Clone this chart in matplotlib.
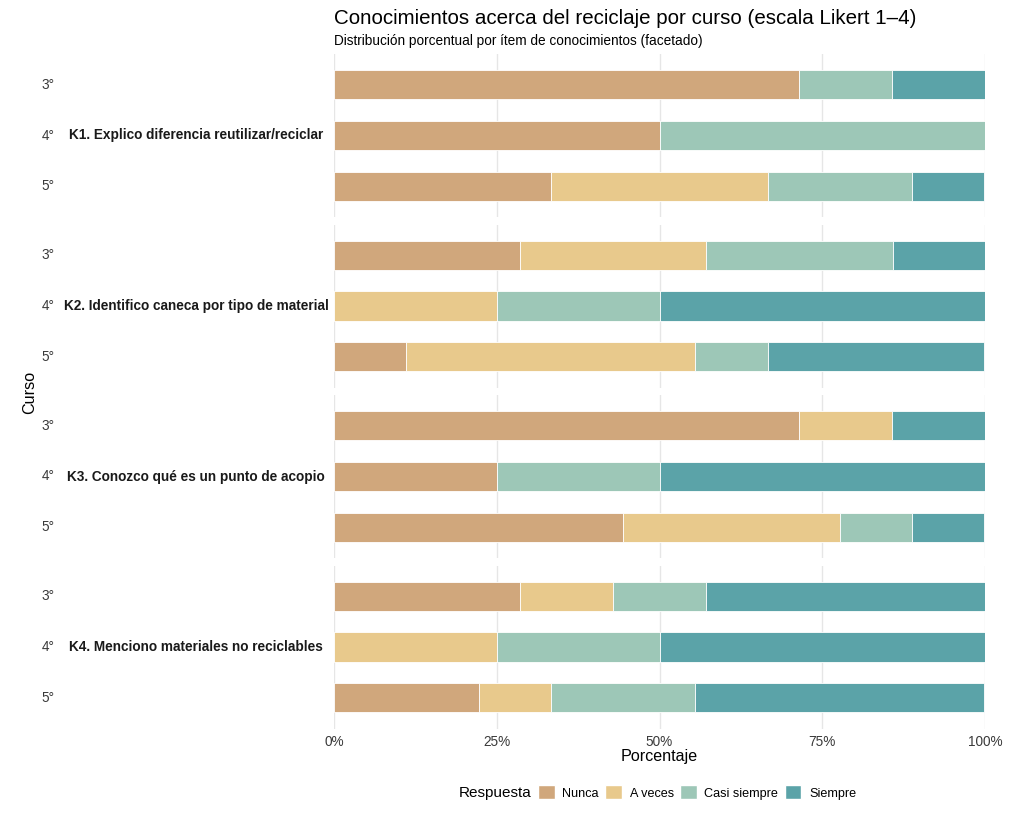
import numpy as np
import matplotlib
matplotlib.use("Agg")
import matplotlib.pyplot as plt
from matplotlib.patches import Patch

plt.rcParams['font.family'] = ['Liberation Sans', 'DejaVu Sans']

items = ["K1. Explico diferencia reutilizar/reciclar",
         "K2. Identifico caneca por tipo de material",
         "K3. Conozco qué es un punto de acopio",
         "K4. Menciono materiales no reciclables"]
cursos = ["3°", "4°", "5°"]
respuestas = ["Nunca", "A veces", "Casi siempre", "Siempre"]
colores = ["#D0A77C", "#E8C98C", "#9DC7B7", "#5BA3A8"]

# porcentaje por curso: [Nunca, A veces, Casi siempre, Siempre]
k1 = [[71.4, 0, 14.3, 14.3], [50, 0, 50, 0], [33.3, 33.3, 22.2, 11.1]]
k2 = [[28.6, 28.6, 28.6, 14.3], [0, 25, 25, 50], [11.1, 44.4, 11.1, 33.3]]
k3 = [[71.4, 14.3, 0, 14.3], [25, 0, 25, 50], [44.4, 33.3, 11.1, 11.1]]
k4 = [[28.6, 14.3, 14.3, 42.9], [0, 25, 25, 50], [22.2, 11.1, 22.2, 44.4]]
datos = [k1, k2, k3, k4]

W, H = 1010, 818
fig = plt.figure(figsize=(W / 100, H / 100), dpi=100)

centros = [135.5, 306, 476.5, 647]  # pixel centre of each facet
alto = 163
left, right = 334, 985
fs = 9.8

for i, (item, vals) in enumerate(zip(items, datos)):
    c = centros[i]
    ax = fig.add_axes([left / W, 1 - (c + alto / 2) / H, (right - left) / W, alto / H])
    vals = np.array(vals, dtype=float)
    y = np.arange(len(cursos))
    base = np.zeros(len(cursos))
    for j, resp in enumerate(respuestas):
        ax.barh(y, vals[:, j], left=base, height=0.57, color=colores[j],
                edgecolor="white", linewidth=0.6, zorder=2)
        base += vals[:, j]
    ax.set_xlim(0, 100)
    ax.set_ylim(2.6, -0.6)
    ax.set_xticks([0, 25, 50, 75, 100])
    ax.grid(axis="x", color="#E6E6E6", linewidth=1.0, zorder=0)
    for s in ax.spines.values():
        s.set_visible(False)
    ax.tick_params(length=0)
    ax.set_yticks(y)
    ax.set_yticklabels([])
    for k, cu in enumerate(cursos):
        ax.annotate(cu, xy=(55 / W, k), xycoords=("figure fraction", "data"),
                    ha="right", va="center", fontsize=fs, color="#3A3A3A")
    # strip label, centred in the strip column
    ax.annotate(item, xy=(196 / W, 1), xycoords=("figure fraction", "data"),
                ha="center", va="center", fontsize=fs, fontweight="bold", color="#1A1A1A")
    if i < 3:
        ax.set_xticklabels([])
    else:
        ax.set_xticklabels(["0%", "25%", "50%", "75%", "100%"], fontsize=fs, color="#3A3A3A")
        ax.tick_params(axis="x", pad=5)

fig.text(334 / W, 1 - 18 / H, "Conocimientos acerca del reciclaje por curso (escala Likert 1–4)",
         fontsize=14.8, va="center", ha="left")
fig.text(334 / W, 1 - 41 / H, "Distribución porcentual por ítem de conocimientos (facetado)",
         fontsize=fs, va="center", ha="left")
fig.text(30 / W, 1 - 392 / H, "Curso", rotation=90, fontsize=11.6, va="center", ha="center")
fig.text(659.5 / W, 1 - 756 / H, "Porcentaje", fontsize=11.6, va="center", ha="center")

fig.text(531 / W, 1 - 792.5 / H, "Respuesta", fontsize=11, va="center", ha="right")
handles = [Patch(facecolor=c, edgecolor="white", label=r) for c, r in zip(colores, respuestas)]
fig.legend(handles=handles, loc="center left", bbox_to_anchor=(538 / W, 1 - 792.5 / H),
           ncol=4, frameon=False, fontsize=9.1, handlelength=1.33, handleheight=1.33,
           handletextpad=0.6, columnspacing=0.5, borderpad=0, borderaxespad=0)

fig.savefig("out.png", dpi=100, facecolor="white")
